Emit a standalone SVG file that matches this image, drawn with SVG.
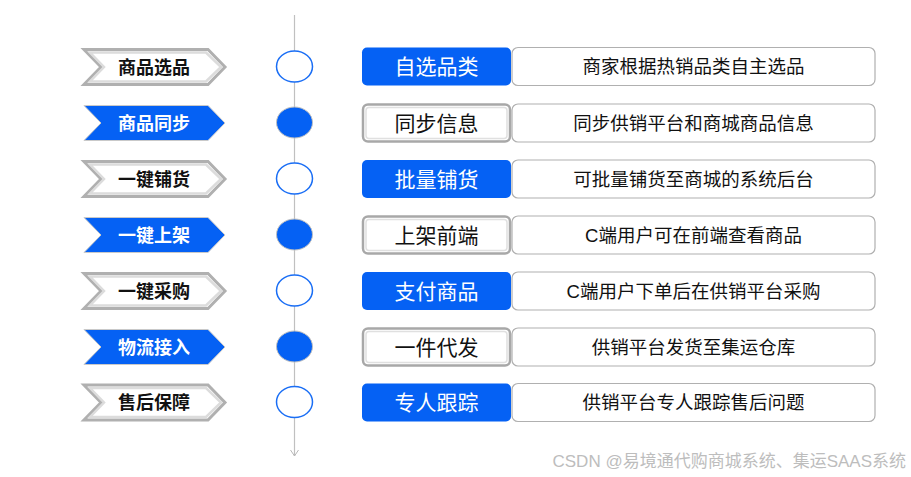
<svg xmlns="http://www.w3.org/2000/svg" width="911" height="477" viewBox="0 0 911 477">
<defs>
<style>
.chev-b{fill:#0561F4;stroke:#c9c9c9;stroke-width:1}
.chev-g{fill:#ffffff;stroke:#b0b0b0;stroke-width:3}
.chev-gi{fill:none;stroke:#dcdcdc;stroke-width:2.5}
.ct{font-family:"Liberation Sans","Noto Sans CJK SC",sans-serif;font-size:18px;font-weight:bold;text-anchor:middle}
.ct-w{fill:#ffffff}
.ct-k{fill:#111111}
.dot-f{fill:#0561F4;stroke:#c0c0c0;stroke-width:1}
.dot-o{fill:#ffffff;stroke:#1a6ef5;stroke-width:1.5}
.lb-b{fill:#0561F4}
.lb-g{fill:#ffffff;stroke:#a8a8a8;stroke-width:2.5}
.lb-gi{fill:none;stroke:#e0e0e0;stroke-width:1.5}
.lt{font-family:"Liberation Sans","Noto Sans CJK SC",sans-serif;font-size:21px;text-anchor:middle}
.rb{fill:#ffffff;stroke:#b0b0b0;stroke-width:1.2}
.rt{font-family:"Liberation Sans","Noto Sans CJK SC",sans-serif;font-size:18.5px;fill:#111111;text-anchor:middle}
.axis{stroke:#c0c0c0;stroke-width:1.2;fill:none}
</style>
<marker id="arr" markerWidth="10" markerHeight="10" refX="8" refY="5" orient="auto" markerUnits="userSpaceOnUse" viewBox="0 0 10 10">
<path d="M2,1 L8,5 L2,9" fill="none" stroke="#b8b8b8" stroke-width="1"/>
</marker>
</defs>
<rect width="911" height="477" fill="#ffffff"/>

<g id="connectors">
<line class="axis" x1="294.5" y1="15" x2="294.5" y2="456" marker-end="url(#arr)"/>
</g>

<g id="row1">
<polygon class="chev-g" points="84,49.5 208,49.5 225,67 208,84.5 84,84.5 101,67"/>
<polygon class="chev-gi" points="90,52.5 206,52.5 221,67 206,81.5 90,81.5 104,67"/>
<text class="ct ct-k" x="154" y="73.5">商品选品</text>
<ellipse class="dot-o" cx="294.5" cy="66.5" rx="18" ry="15.5"/>
<rect class="lb-b" x="362" y="47.5" width="149" height="38" rx="5"/>
<text class="lt" x="436.5" y="74" fill="#ffffff">自选品类</text>
<rect class="rb" x="512" y="47.5" width="363" height="38" rx="6"/>
<text class="rt" x="693.5" y="73">商家根据热销品类自主选品</text>
</g>

<g id="row2">
<polygon class="chev-b" points="84,105.5 208,105.5 225,123 208,140.5 84,140.5 101,123"/>
<text class="ct ct-w" x="154" y="129.5">商品同步</text>
<ellipse class="dot-f" cx="294.5" cy="122.5" rx="18" ry="15.5"/>
<rect class="lb-g" x="363" y="104.5" width="147" height="37" rx="5"/>
<rect class="lb-gi" x="366" y="107.5" width="141" height="31" rx="3"/>
<text class="lt" x="436.5" y="130.5" fill="#111111">同步信息</text>
<rect class="rb" x="512" y="104" width="363" height="38" rx="6"/>
<text class="rt" x="693.5" y="129.5">同步供销平台和商城商品信息</text>
</g>

<g id="row3">
<polygon class="chev-g" points="84,161.5 208,161.5 225,179 208,196.5 84,196.5 101,179"/>
<polygon class="chev-gi" points="90,164.5 206,164.5 221,179 206,193.5 90,193.5 104,179"/>
<text class="ct ct-k" x="154" y="185.5">一键铺货</text>
<ellipse class="dot-o" cx="294.5" cy="178.5" rx="18" ry="15.5"/>
<rect class="lb-b" x="362" y="160" width="149" height="38" rx="5"/>
<text class="lt" x="436.5" y="186.5" fill="#ffffff">批量铺货</text>
<rect class="rb" x="512" y="160" width="363" height="38" rx="6"/>
<text class="rt" x="693.5" y="185.5">可批量铺货至商城的系统后台</text>
</g>

<g id="row4">
<polygon class="chev-b" points="84,217.5 208,217.5 225,235 208,252.5 84,252.5 101,235"/>
<text class="ct ct-w" x="154" y="241.5">一键上架</text>
<ellipse class="dot-f" cx="294.5" cy="234.5" rx="18" ry="15.5"/>
<rect class="lb-g" x="363" y="216.5" width="147" height="37" rx="5"/>
<rect class="lb-gi" x="366" y="219.5" width="141" height="31" rx="3"/>
<text class="lt" x="436.5" y="242.5" fill="#111111">上架前端</text>
<rect class="rb" x="512" y="216" width="363" height="38" rx="6"/>
<text class="rt" x="693.5" y="241.5">C端用户可在前端查看商品</text>
</g>

<g id="row5">
<polygon class="chev-g" points="84,273.5 208,273.5 225,291 208,308.5 84,308.5 101,291"/>
<polygon class="chev-gi" points="90,276.5 206,276.5 221,291 206,305.5 90,305.5 104,291"/>
<text class="ct ct-k" x="154" y="297.5">一键采购</text>
<ellipse class="dot-o" cx="294.5" cy="290.5" rx="18" ry="15.5"/>
<rect class="lb-b" x="362" y="272" width="149" height="38" rx="5"/>
<text class="lt" x="436.5" y="298.5" fill="#ffffff">支付商品</text>
<rect class="rb" x="512" y="272" width="363" height="38" rx="6"/>
<text class="rt" x="693.5" y="297.5">C端用户下单后在供销平台采购</text>
</g>

<g id="row6">
<polygon class="chev-b" points="84,329.5 208,329.5 225,347 208,364.5 84,364.5 101,347"/>
<text class="ct ct-w" x="154" y="353.5">物流接入</text>
<ellipse class="dot-f" cx="294.5" cy="346.5" rx="18" ry="15.5"/>
<rect class="lb-g" x="363" y="328.5" width="147" height="37" rx="5"/>
<rect class="lb-gi" x="366" y="331.5" width="141" height="31" rx="3"/>
<text class="lt" x="436.5" y="354.5" fill="#111111">一件代发</text>
<rect class="rb" x="512" y="328" width="363" height="38" rx="6"/>
<text class="rt" x="693.5" y="353.5">供销平台发货至集运仓库</text>
</g>

<g id="row7">
<polygon class="chev-g" points="84,385 208,385 225,402.5 208,420 84,420 101,402.5"/>
<polygon class="chev-gi" points="90,388 206,388 221,402.5 206,417 90,417 104,402.5"/>
<text class="ct ct-k" x="154" y="409">售后保障</text>
<ellipse class="dot-o" cx="294.5" cy="402" rx="18" ry="15.5"/>
<rect class="lb-b" x="362" y="383.5" width="149" height="38" rx="5"/>
<text class="lt" x="436.5" y="410" fill="#ffffff">专人跟踪</text>
<rect class="rb" x="512" y="383.5" width="363" height="38" rx="6"/>
<text class="rt" x="693.5" y="409">供销平台专人跟踪售后问题</text>
</g>

<text x="906" y="467" font-family="Liberation Sans,'Noto Sans CJK SC',sans-serif" font-size="17" fill="#bdbdbd" text-anchor="end">CSDN @易境通代购商城系统、集运SAAS系统</text>
</svg>
